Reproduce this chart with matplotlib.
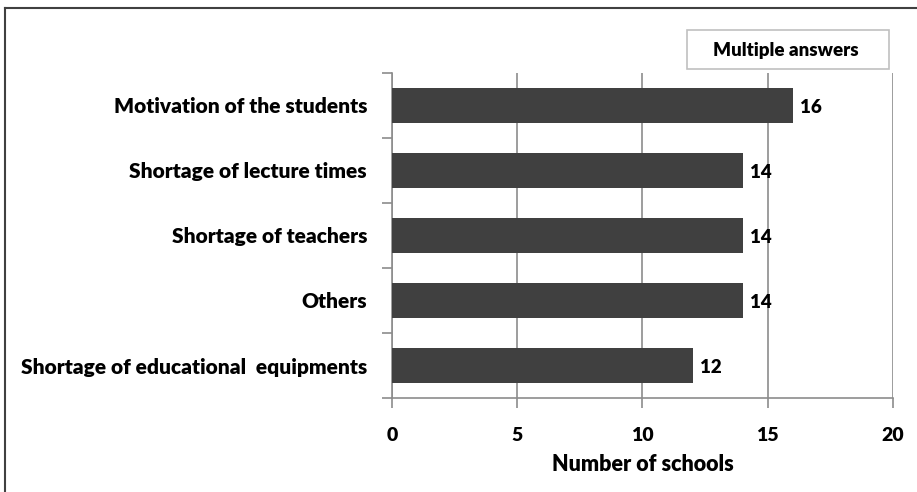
import numpy as np
import matplotlib.pyplot as plt
from matplotlib.lines import Line2D
from matplotlib.patches import Rectangle

# data, top to bottom as shown
causes = ['Motivation of the students', 'Shortage of lecture times',
          'Shortage of teachers', 'Others',
          'Shortage of educational  equipments']
schools = [16, 14, 14, 14, 12]

plt.rcParams['font.family'] = ['Lato', 'DejaVu Sans']
W = 'heavy'

fig = plt.figure(figsize=(9.17, 4.92), dpi=100)
ax = fig.add_axes([0.4275, 0.191, 0.5463, 0.661])

ypos = np.arange(len(causes))[::-1]
ax.barh(ypos, schools, height=0.54, color='#404040', zorder=3)
for y, v in zip(ypos, schools):
    ax.text(v + 0.3, y - 0.03, str(v), va='center', ha='left', fontsize=13.5, fontweight=W)

ax.set_xlim(0, 20)
ax.set_ylim(-0.5, len(causes) - 0.5)
ax.set_xticks([0, 5, 10, 15, 20])
ax.xaxis.grid(True, color='#8c8c8c', linewidth=1.2, zorder=0)
ax.set_yticks(ypos)
ax.set_yticklabels(causes, fontsize=15, fontweight=W)
ax.set_yticks(np.arange(-0.5, len(causes)), minor=True)
ax.tick_params(axis='y', which='major', length=0, pad=18)
ax.tick_params(axis='y', which='minor', length=7, color='#8c8c8c', width=1.2)
ax.tick_params(axis='x', length=7, color='#8c8c8c', width=1.2, pad=14, labelsize=14)
for lab in ax.get_xticklabels():
    lab.set_fontweight(W)
ax.set_xlabel('Number of schools', fontsize=15.5, fontweight=W, labelpad=7)

for s in ['top', 'right']:
    ax.spines[s].set_visible(False)
for s in ['left', 'bottom']:
    ax.spines[s].set_color('#8c8c8c')
    ax.spines[s].set_linewidth(1.2)

# note box
fig.add_artist(Rectangle((0.749, 0.860), 0.220, 0.079, transform=fig.transFigure,
                         facecolor='white', edgecolor='#c0c0c0', linewidth=1.2))
fig.text(0.857, 0.898, 'Multiple answers', ha='center', va='center', fontsize=13.5,
         fontweight=W)

# outer frame (top and left edges)
fig.add_artist(Line2D([0.005, 1.0], [0.984, 0.984], color='#404040', linewidth=1.5))
fig.add_artist(Line2D([0.005, 0.005], [0.0, 0.984], color='#404040', linewidth=1.5))

fig.savefig('out.png', dpi=100)
